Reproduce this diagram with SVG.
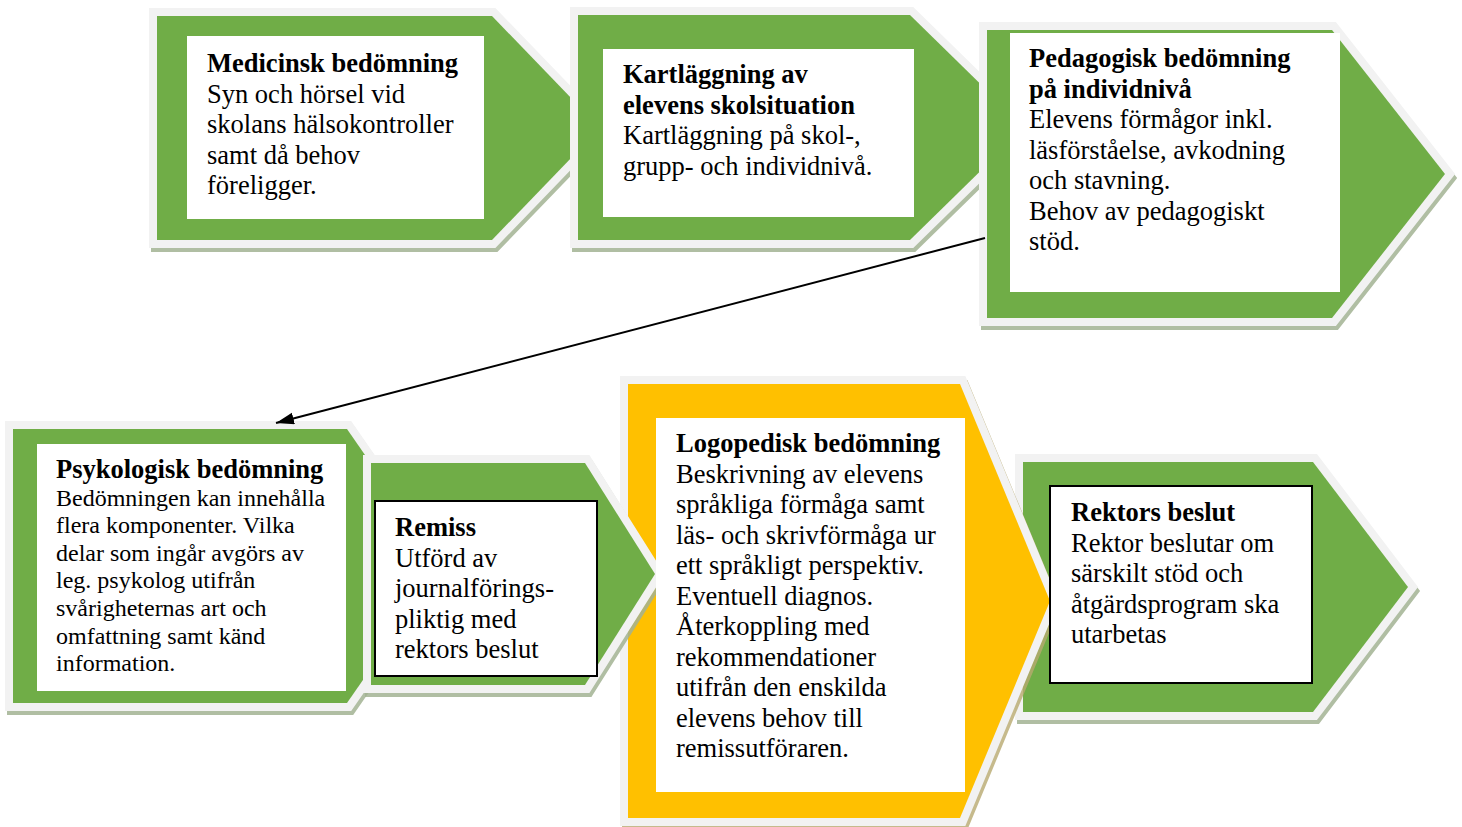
<svg xmlns="http://www.w3.org/2000/svg" width="1462" height="827" viewBox="0 0 1462 827">
<style>
.arr{stroke:#f2f2f2;stroke-width:16;stroke-linejoin:miter;paint-order:stroke}
.g{fill:#70ad47}
.y{fill:#ffc000}
.shg{fill:#a3b393;stroke:#a3b393;stroke-width:16;opacity:0.85}
.shy{fill:#b8aa70;stroke:#b8aa70;stroke-width:16;opacity:0.8}
.box{fill:#ffffff}
.boxb{fill:#ffffff;stroke:#000000;stroke-width:2}
text{font-family:"Liberation Serif","Times New Roman",serif;font-size:26.5px;fill:#000000}
.t{font-weight:bold}
.s{font-size:24px}
</style>
<defs>
<marker id="ah" markerUnits="userSpaceOnUse" markerWidth="20" markerHeight="14" refX="18" refY="6" orient="auto">
<path d="M0,0 L18,6 L0,12 z" fill="#000000"/>
</marker>
</defs>
<!-- shapes -->
<g id="medicinsk">
<polygon class="shg" transform="translate(2,4)" points="157,16 492,16 600,128 492,240 157,240"/>
<polygon class="arr g" points="157,16 492,16 600,128 492,240 157,240"/>
</g>
<g id="kartlaggning">
<polygon class="shg" transform="translate(2,4)" points="578,15 910,15 1025,127.5 910,240 578,240"/>
<polygon class="arr g" points="578,15 910,15 1025,127.5 910,240 578,240"/>
</g>
<g id="pedagogisk">
<polygon class="shg" transform="translate(2,4)" points="987,30 1332,30 1445,174 1332,318 987,318"/>
<polygon class="arr g" points="987,30 1332,30 1445,174 1332,318 987,318"/>
</g>
<g id="psykologisk">
<polygon class="shg" transform="translate(2,4)" points="13,429 347,429 442,566 347,703 13,703"/>
<polygon class="arr g" points="13,429 347,429 442,566 347,703 13,703"/>
</g>
<g id="rektors">
<polygon class="shg" transform="translate(2,4)" points="1023,462 1313,462 1408,587 1313,712 1023,712"/>
<polygon class="arr g" points="1023,462 1313,462 1408,587 1313,712 1023,712"/>
</g>
<g id="logopedisk">
<polygon class="shy" transform="translate(2,4)" points="628,384 960,384 1050,601 960,818 628,818"/>
<polygon class="arr y" points="628,384 960,384 1050,601 960,818 628,818"/>
</g>
<g id="remiss">
<polygon class="shg" transform="translate(2,4)" points="371,463 585,463 655,574 585,685 371,685"/>
<polygon class="arr g" points="371,463 585,463 655,574 585,685 371,685"/>
</g>
<!-- text boxes -->
<g id="medicinsk-text">
<rect class="box" x="187" y="36" width="297" height="183"/>
<text x="207" y="72" class="t">Medicinsk bedömning</text>
<text x="207" y="102.5">Syn och hörsel vid</text>
<text x="207" y="133">skolans hälsokontroller</text>
<text x="207" y="163.5">samt då behov</text>
<text x="207" y="194">föreligger.</text>
</g>
<g id="kartlaggning-text">
<rect class="box" x="603" y="49" width="311" height="168"/>
<text x="623" y="83" class="t">Kartläggning av</text>
<text x="623" y="113.5" class="t">elevens skolsituation</text>
<text x="623" y="144">Kartläggning på skol-,</text>
<text x="623" y="174.5">grupp- och individnivå.</text>
</g>
<g id="pedagogisk-text">
<rect class="box" x="1010" y="33" width="330" height="259"/>
<text x="1029" y="67" class="t">Pedagogisk bedömning</text>
<text x="1029" y="97.5" class="t">på individnivå</text>
<text x="1029" y="128">Elevens förmågor inkl.</text>
<text x="1029" y="158.5">läsförståelse, avkodning</text>
<text x="1029" y="189">och stavning.</text>
<text x="1029" y="219.5">Behov av pedagogiskt</text>
<text x="1029" y="250">stöd.</text>
</g>
<g id="psykologisk-text">
<rect class="box" x="37" y="444" width="309" height="247"/>
<text x="56" y="478" class="t">Psykologisk bedömning</text>
<text x="56" y="505.6" class="s">Bedömningen kan innehålla</text>
<text x="56" y="533.2" class="s">flera komponenter. Vilka</text>
<text x="56" y="560.8" class="s">delar som ingår avgörs av</text>
<text x="56" y="588.4" class="s">leg. psykolog utifrån</text>
<text x="56" y="616" class="s">svårigheternas art och</text>
<text x="56" y="643.6" class="s">omfattning samt känd</text>
<text x="56" y="671.2" class="s">information.</text>
</g>
<g id="remiss-text">
<rect class="boxb" x="375" y="501" width="222" height="175"/>
<text x="395" y="536" class="t">Remiss</text>
<text x="395" y="566.5">Utförd av</text>
<text x="395" y="597">journalförings-</text>
<text x="395" y="627.5">pliktig med</text>
<text x="395" y="658">rektors beslut</text>
</g>
<g id="logopedisk-text">
<rect class="box" x="656" y="418" width="309" height="374"/>
<text x="676" y="452" class="t">Logopedisk bedömning</text>
<text x="676" y="482.5">Beskrivning av elevens</text>
<text x="676" y="513">språkliga förmåga samt</text>
<text x="676" y="543.5">läs- och skrivförmåga ur</text>
<text x="676" y="574">ett språkligt perspektiv.</text>
<text x="676" y="604.5">Eventuell diagnos.</text>
<text x="676" y="635">Återkoppling med</text>
<text x="676" y="665.5">rekommendationer</text>
<text x="676" y="696">utifrån den enskilda</text>
<text x="676" y="726.5">elevens behov till</text>
<text x="676" y="757">remissutföraren.</text>
</g>
<g id="rektors-text">
<rect class="boxb" x="1050" y="486" width="262" height="197"/>
<text x="1071" y="521" class="t">Rektors beslut</text>
<text x="1071" y="551.5">Rektor beslutar om</text>
<text x="1071" y="582">särskilt stöd och</text>
<text x="1071" y="612.5">åtgärdsprogram ska</text>
<text x="1071" y="643">utarbetas</text>
</g>
<!-- connectors -->
<g id="connectors">
<line x1="985" y1="238" x2="276" y2="423" stroke="#000000" stroke-width="2" marker-end="url(#ah)"/>
</g>
</svg>
